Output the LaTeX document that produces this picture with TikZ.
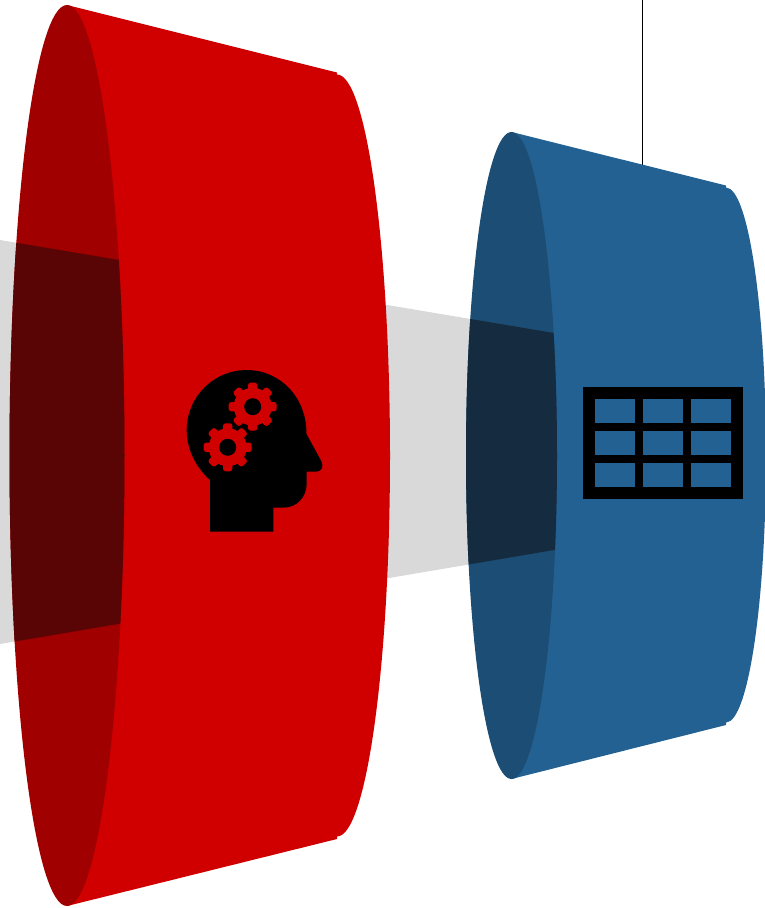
\documentclass[tikz,border=0pt]{standalone}
\usepackage{xcolor}
\usepackage{tikz}
\definecolor{redbody}{HTML}{D00000}
\definecolor{redfront}{HTML}{A00000}
\definecolor{redbeam}{HTML}{5A0505}
\definecolor{bluebody}{HTML}{236192}
\definecolor{bluefront}{HTML}{1C4D75}
\definecolor{bluebeam}{HTML}{152C40}
\definecolor{beamgray}{HTML}{D9D9D9}
\tikzset{
  icon/.style={fill=black,draw=none},
  gearpart/.style={fill=redbody,draw=none},
}
\begin{document}
\begin{tikzpicture}[x=1pt,y=-1pt]
  \useasboundingbox (0,0) rectangle (765,908);
  % feed line and beam, behind both drums
  \draw[black,line width=1pt] (642,0) -- (642,170);
  \def\beam{(0,240) -- (560,334) -- (560,549) -- (0,644) -- cycle}
  \fill[beamgray] \beam;
  % red drum
  \fill[redbody] (67,5) -- (337,72.5) -- (337,839) -- (67,906) -- cycle;
  \fill[redbody] (337,455.5) ellipse [x radius=53,y radius=381];
  \fill[redfront] (67,455.5) ellipse [x radius=57.5,y radius=450.5];
  \begin{scope}
    \clip (67,455.5) ellipse [x radius=57.5,y radius=450.5];
    \fill[redbeam] \beam;
  \end{scope}
  % blue drum
  \fill[bluebody] (511.5,132) -- (726,185.5) -- (726,725) -- (511.5,779) -- cycle;
  \fill[bluebody] (726,455) ellipse [x radius=40,y radius=267.5];
  \fill[bluefront] (511.5,455.5) ellipse [x radius=45.5,y radius=323.5];
  \begin{scope}
    \clip (511.5,455.5) ellipse [x radius=45.5,y radius=323.5];
    \fill[bluebeam] \beam;
  \end{scope}
  % head, skull is nearly a circle of radius 60
  \fill[icon] (210,531.7) -- (273.3,531.7) -- (273.3,507.7) -- (283,507.7)
    .. controls (297,507.7) and (306.7,497) .. (306.7,483.3)
    -- (306.7,471.7) -- (316,471.7)
    .. controls (321.5,471.7) and (324,466.5) .. (321.5,461.5)
    -- (306.5,434)
    .. controls (306.7,397) and (279.8,370) .. (246.7,370)
    .. controls (213.6,370) and (186.7,397) .. (186.7,430)
    .. controls (186.7,449) and (195.5,467) .. (210,480) -- cycle;
  % gears: tooth every 45 degrees
  \foreach \gx/\gy in {252.7/406.7,227.7/447.3}{
    \fill[gearpart] (\gx,\gy) circle (19);
    \foreach \a in {0,45,...,315}{
      \fill[gearpart,rotate around={\a:(\gx,\gy)},rounded corners=2.5pt]
        (\gx-4.6,\gy-24) rectangle (\gx+4.6,\gy-14);
    }
    \fill[icon] (\gx,\gy) circle (8.5);
  }
  % table
  \fill[icon] (582.7,387) rectangle (743,499);
  \foreach \cx in {595,643,691}{
    \foreach \cy in {399,431,463}{
      \fill[bluebody] (\cx,\cy) rectangle (\cx+40,\cy+24);
    }
  }
\end{tikzpicture}
\end{document}
